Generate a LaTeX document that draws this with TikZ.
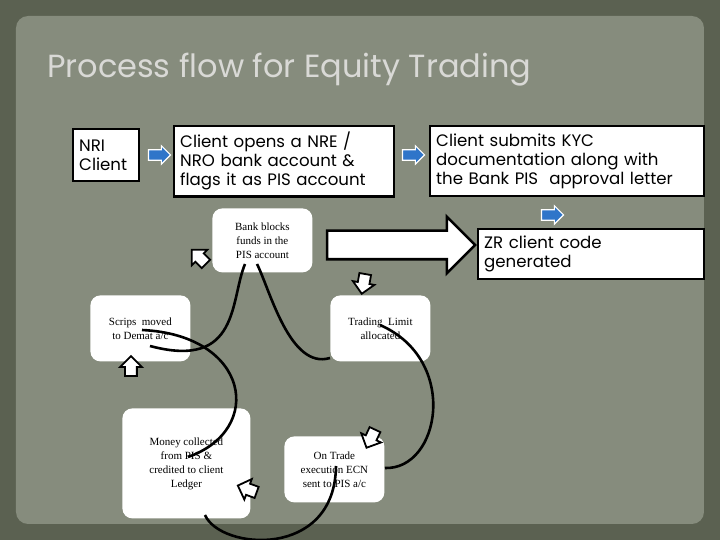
\documentclass[tikz,border=0pt]{standalone}
\usepackage{fontspec}
\setmainfont{Liberation Serif}
\newfontfamily\gothic{Poppins}
\usetikzlibrary{shapes.arrows}
\definecolor{bgouter}{HTML}{5B6151}
\definecolor{bginner}{HTML}{868C7D}
\definecolor{titlegray}{HTML}{D9D9D6}
\definecolor{arrowblue}{HTML}{2F75C9}
\tikzset{
  flowbox/.style={draw=black, line width=1.2pt, fill=white, align=left, inner sep=3pt,
    font=\gothic\fontsize{8.3}{9.5}\selectfont, anchor=north west},
  phase/.style={fill=white, rounded corners=5pt, align=center,
    font=\fontsize{5.5}{7}\selectfont, anchor=north west},
  bluearrow/.style={single arrow, draw=white, line width=0.6pt, fill=arrowblue,
    minimum height=11pt, single arrow head extend=2pt, inner sep=2.3pt},
  hollow/.style={single arrow, draw=black, line width=0.9pt, fill=white,
    minimum height=10pt, single arrow head extend=2.5pt, inner sep=2.5pt},
  loop/.style={line width=1.3pt, black}
}
\begin{document}
\begin{tikzpicture}[x=0.5pt,y=-0.5pt]
  %Background
  \fill[bgouter] (0,0) rectangle (720,540);
  \fill[bginner, rounded corners=6pt] (16,16) rectangle (704,524);
  \useasboundingbox (0,0) rectangle (720,540);
  \node[anchor=west, text=titlegray, font=\gothic\fontsize{16}{18}\selectfont] (title) at (40,70) {Process flow for Equity Trading};
  %Top row
  \node[flowbox, text width=27pt, minimum height=26pt] (nri) at (72,128) {NRI\\Client};
  \node[flowbox, text width=104pt, minimum height=34pt] (opens) at (173,125) {Client opens a NRE /\\NRO bank account \&\\flags it as PIS account};
  \node[flowbox, text width=131pt, minimum height=35pt] (kyc) at (429,125) {Client submits KYC\\documentation along with\\the Bank PIS\ \ approval letter};
  \node[flowbox, text width=107pt, minimum height=25pt] (zr) at (477,228) {ZR client code\\generated};
  \node[bluearrow] (a1) at (157,155) {};
  \node[bluearrow] (a2) at (411,155) {};
  \node[bluearrow] (a3) at (550,215) {};
  %Cycle
  \node[phase, minimum width=50pt, minimum height=32pt] (bank) at (212,208) {Bank blocks\\funds in the\\PIS account};
  \node[phase, minimum width=50pt, minimum height=33pt] (scrips) at (90,295) {Scrips\ \ moved\\to Demat a/c};
  \node[phase, minimum width=50pt, minimum height=33pt] (limit) at (330,295) {Trading\ \ Limit\\allocated};
  \node[phase, minimum width=64pt, minimum height=55pt] (money) at (122,408) {Money collected\\from PIS \&\\credited to client\\Ledger};
  \node[phase, minimum width=50pt, minimum height=33pt] (ecn) at (284,436) {On Trade\\execution ECN\\sent to PIS a/c};
  \node[single arrow, draw=black, line width=1.3pt, fill=white, inner sep=6.5pt,
    minimum height=74pt, single arrow head extend=7pt] (big) at (394,245) {};
  \node[hollow, rotate=135] (h1) at (201,259) {};
  \node[hollow, rotate=-100] (h2) at (364,281) {};
  \node[hollow, rotate=-115] (h3) at (372,436) {};
  \node[hollow, rotate=160] (h4) at (250,490) {};
  \node[hollow, rotate=90] (h5) at (131,369) {};
  \coordinate (b1) at ([shift={(33,56)}]bank.north west);
  \coordinate (b2) at ([shift={(45,56)}]bank.north west);
  \draw[loop] (b2) .. controls (270,290) and (290,370) .. (330,358);
  \draw[loop] (b1) .. controls (230,300) and (240,370) .. (150,346);
  \draw[loop] ([shift={(52,35)}]scrips.north west) .. controls (250,335) and (265,430) .. ([shift={(66,49)}]money.north west);
  \draw[loop] ([shift={(50,30)}]limit.north west) .. controls (460,360) and (440,470) .. (385,468);
  \draw[loop] ([shift={(52,30)}]ecn.north west) .. controls (335,560) and (220,550) .. (205,515);
\end{tikzpicture}
\end{document}
